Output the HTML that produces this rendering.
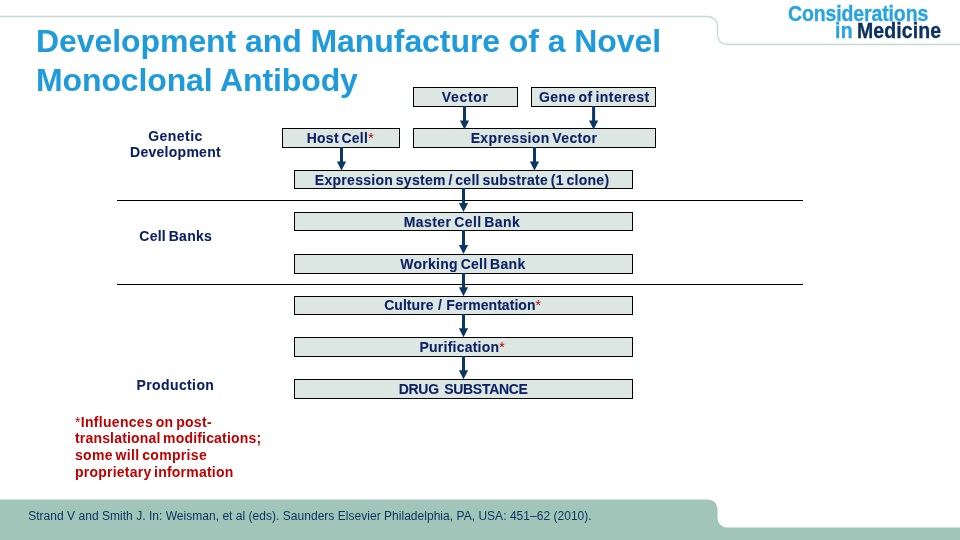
<!DOCTYPE html>
<html lang="en">
<head>
<meta charset="utf-8">
<title>Development and Manufacture of a Novel Monoclonal Antibody</title>
<style>
html,body{margin:0;padding:0;}
body{width:960px;height:540px;position:relative;overflow:hidden;background:#fff;font-family:"Liberation Sans",Arial,sans-serif;}
#bg{position:absolute;left:0;top:0;}
#txt{position:absolute;left:0;top:0;width:960px;height:540px;will-change:transform;}
.g{margin:0;padding:0;font-size:0;line-height:0;height:0;}
.t{position:absolute;display:block;margin:0;white-space:nowrap;font-weight:bold;font-size:14px;line-height:17px;height:17px;}
.bt{color:#0b1f63;word-spacing:-1.5px;-webkit-text-stroke:0.1px #0b1f63;}
.r{color:#c00000;font-weight:normal;-webkit-text-stroke:0 transparent;}
.nt{color:#c00000;word-spacing:-1.5px;}
.ft{color:#0c3660;font-weight:normal;font-size:12px;line-height:14px;height:14px;}
.tt{color:#1f9bdb;font-size:32px;line-height:39px;height:39px;}
.lg{font-size:21.2px;line-height:24px;height:24px;transform:translateY(-1.3px) scale(0.92,1.03);transform-origin:0 0;}
.lg.a{color:#27a3e0;-webkit-text-stroke:0.3px #27a3e0;}
.lg.b{color:#0b3261;-webkit-text-stroke:0.3px #0b3261;}
</style>
</head>
<body>
<svg id="bg" width="960" height="540" viewBox="0 0 960 540">
  <path d="M0 499.5 H708 a9.5 9.5 0 0 1 9.5 9.5 V518 a9.5 9.5 0 0 0 9.5 9.5 H960 V540 H0 Z" fill="#a2c5b9"/>
  <path d="M0 16.5 H708 a9.5 9.5 0 0 1 9.5 9.5 V35 a9.5 9.5 0 0 0 9.5 9.5 H960" fill="none" stroke="#c3d9d2" stroke-width="1.3"/>
  <g stroke="#000" stroke-width="1" fill="none">
    <path d="M117 200.5 H803"/>
    <path d="M117 284.5 H803"/>
  </g>
  <g fill="#dce7e3" stroke="#000" stroke-width="1">
    <rect x="413.5" y="87.5" width="104.0" height="19.0"/>
    <rect x="531.5" y="87.5" width="124.0" height="19.0"/>
    <rect x="282.5" y="128.5" width="117.0" height="19.0"/>
    <rect x="413.5" y="128.5" width="242.0" height="19.0"/>
    <rect x="294.5" y="170.5" width="338.0" height="18.0"/>
    <rect x="294.5" y="212.5" width="338.0" height="18.0"/>
    <rect x="294.5" y="254.5" width="338.0" height="19.0"/>
    <rect x="294.5" y="296.5" width="338.0" height="18.0"/>
    <rect x="294.5" y="337.5" width="338.0" height="19.0"/>
    <rect x="294.5" y="379.5" width="338.0" height="19.0"/>
  </g>
  <g fill="#0c3663" stroke="none">
    <path d="M463.00 106.00 H466.00 V120.50 H469.10 L464.50 129.50 L459.90 120.50 H463.00 Z"/>
    <path d="M592.10 106.00 H595.10 V120.50 H598.20 L593.60 129.50 L589.00 120.50 H592.10 Z"/>
    <path d="M340.00 147.00 H343.00 V161.50 H346.10 L341.50 170.50 L336.90 161.50 H340.00 Z"/>
    <path d="M533.00 147.00 H536.00 V161.50 H539.10 L534.50 170.50 L529.90 161.50 H533.00 Z"/>
    <path d="M462.00 188.00 H465.00 V203.00 H468.10 L463.50 212.00 L458.90 203.00 H462.00 Z"/>
    <path d="M462.00 230.00 H465.00 V245.00 H468.10 L463.50 254.00 L458.90 245.00 H462.00 Z"/>
    <path d="M462.00 273.00 H465.00 V287.20 H468.10 L463.50 296.20 L458.90 287.20 H462.00 Z"/>
    <path d="M462.00 314.00 H465.00 V328.20 H468.10 L463.50 337.20 L458.90 328.20 H462.00 Z"/>
    <path d="M462.00 356.00 H465.00 V370.20 H468.10 L463.50 379.20 L458.90 370.20 H462.00 Z"/>
  </g>
</svg>
<div id="txt">
<header>
<h1 class="g">
  <span class="t tt" style="left:36.00px;top:22px;letter-spacing:-0.068px;">Development and Manufacture of a Novel</span>
  <span class="t tt" style="left:36.00px;top:61px;letter-spacing:-0.125px;">Monoclonal Antibody</span>
</h1>
<div class="g logo">
  <span class="t lg a" style="left:788.45px;top:3px;letter-spacing:-0.135px;">Considerations</span>
  <span class="t lg a" style="left:835.25px;top:20px;letter-spacing:0.259px;">in</span>
  <span class="t lg b" style="left:856.75px;top:20px;letter-spacing:0.107px;">Medicine</span>
</div>
</header>
<main>
<div class="g flow">
  <div class="t bt" style="left:441.75px;top:89px;letter-spacing:0.700px;">Vector</div>
  <div class="t bt" style="left:538.90px;top:89px;letter-spacing:0.450px;">Gene of interest</div>
  <div class="t bt" style="left:306.70px;top:130px;letter-spacing:0.250px;">Host Cell<span class="r">*</span></div>
  <div class="t bt" style="left:470.70px;top:130px;letter-spacing:0.344px;">Expression Vector</div>
  <div class="t bt" style="left:314.80px;top:172px;letter-spacing:0.285px;">Expression system / cell substrate (1 clone)</div>
  <div class="t bt" style="left:403.75px;top:214px;letter-spacing:0.417px;">Master Cell Bank</div>
  <div class="t bt" style="left:400.25px;top:256px;letter-spacing:0.281px;">Working Cell Bank</div>
  <div class="t bt" style="left:384.20px;top:297px;letter-spacing:0.045px;word-spacing:0.5px;">Culture / Fermentation<span class="r">*</span></div>
  <div class="t bt" style="left:419.50px;top:339px;letter-spacing:0.229px;">Purification<span class="r">*</span></div>
  <div class="t bt" style="left:398.70px;top:381px;letter-spacing:-0.288px;word-spacing:1.8px;">DRUG SUBSTANCE</div>
</div>
<div class="g stage">
  <span class="t bt" style="left:148.25px;top:128px;letter-spacing:0.458px;">Genetic</span>
  <span class="t bt" style="left:130.00px;top:144px;letter-spacing:0.275px;">Development</span>
</div>
<div class="g stage">
  <span class="t bt" style="left:139.25px;top:228px;letter-spacing:0.278px;">Cell Banks</span>
</div>
<div class="g stage">
  <span class="t bt" style="left:136.50px;top:377px;letter-spacing:0.389px;">Production</span>
</div>
<p class="g note">
  <span class="t nt" style="left:75.00px;top:414px;letter-spacing:0.303px;"><span class="r">*</span>Influences on post-</span>
  <span class="t nt" style="left:75.00px;top:430px;letter-spacing:0.176px;">translational modifications;</span>
  <span class="t nt" style="left:75.00px;top:447px;letter-spacing:0.324px;">some will comprise</span>
  <span class="t nt" style="left:75.00px;top:464px;letter-spacing:0.227px;">proprietary information</span>
</p>
</main>
<footer>
<div class="t ft" style="left:28.20px;top:509px;letter-spacing:0.029px;">Strand V and Smith J. In: Weisman, et al (eds). Saunders Elsevier Philadelphia, PA, USA: 451–62 (2010).</div>
</footer>
</div>
</body>
</html>
